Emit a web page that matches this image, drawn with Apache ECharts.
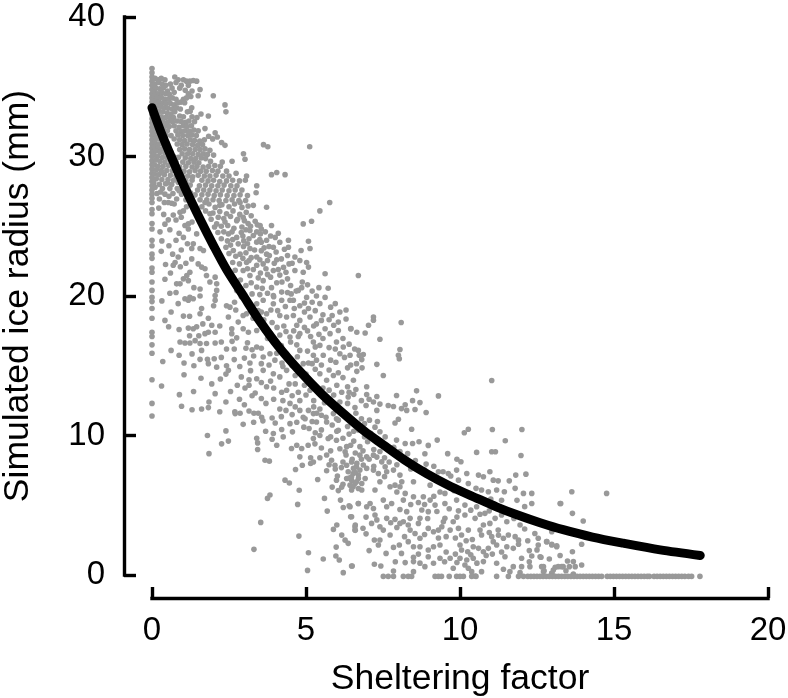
<!DOCTYPE html>
<html><head><meta charset="utf-8">
<style>html,body{margin:0;padding:0;background:#fff}#c{width:788px;height:698px}</style>
<script src="https://cdn.jsdelivr.net/npm/echarts@6/dist/echarts.min.js"></script>
</head><body><div id="c"></div>
<script>
const xTicks=[0,5,10,15,20];
const yTicks=[0,10,20,30,40];
const curveX=[0,0.3,0.7,1.1,1.56,2,2.42,3,3.5,4.1,4.8,5.5,6.2,6.9,7.5,8.2,8.93,9.7,10.55,11.2,11.85,12.6,13.35,14.3,15.3,16.5,17.8];
const curveY=[33.5,31.7,29.6,27.6,25.5,23.6,21.9,19.9,18.2,16.4,14.6,13,11.6,10.3,9.35,8.25,7.25,6.35,5.5,4.87,4.32,3.75,3.25,2.72,2.28,1.8,1.4];
// flat x,y pairs
const columnZero=[0,36.3,0,36,0,35.7,0,35.4,0,35.1,0,34.8,0,34.5,0,34.2,0,33.9,0,33.6,0,33.3,0,33,0,32.7,0,32.4,0,32.1,0,31.8,0,31.5,0,31.2,0,30.9,0,30.6,0,30.3,0,30,0,29.7,0,29.4,0,29.1,0,28.8,0,28.5,0,28.2,0,27.9,0,27.6,0,27.3,0,27,0,26.7,0,26.2,0,25.9,0,25.2,0,24.8,0,24,0,23.6,0,23,0,22.7,0,22,0,21.7,0,21,0,20.4,0,19.9,0,19.6,0,19.1,0,18.4,0,17.4,0,17.1,0,16.5,0,15.9,0,14,0,12.3,0,11.4];
const topDense=[.1,35.6,.2,35.5,.3,35.6,.42,35.5,.74,35.7,.85,35.5,1.02,35.5,1.12,35.4,1.23,35.4,1.34,35.45,1.45,35.4,
.1,35.2,.22,35.3,.33,35.2,.45,35.1,.6,35.2,.78,35.3,.95,35.1,1.18,35.1,1.56,34.8,
.12,34.9,.25,34.85,.37,34.95,.5,34.7,.65,34.9,.9,34.9,1.08,34.75,1.3,34.7,
.1,34.6,.2,34.5,.32,34.6,.44,34.5,.56,34.45,.72,34.6,1.18,34.5,1.26,34.3,1.5,34.36,
.08,34.3,.18,34.2,.3,34.25,.42,34.1,.54,34.1,.66,34.2,.78,34.1,1.02,34.1,1.12,34.2,1.99,34.36,
.1,33.95,.22,33.9,.34,33.85,.46,33.8,.6,33.8,.72,33.7,.84,33.85,.94,33.9,1.06,33.85,
.06,33.65,.16,33.6,.28,33.6,.4,33.5,.52,33.45,.66,33.4,.8,33.5,1.29,33.5,.92,33.4,2.37,33.7,2.4,33.2,
.1,33.3,.24,33.25,.36,33.2,.5,33.1,.62,33.05,.74,33.2,1.15,33.2,1.24,33.25,1.59,33.05,
.08,33,.18,32.9,.3,32.85,.44,32.8,.58,32.75,.7,32.8,.9,32.9,1.02,32.85,1.3,32.85,1.83,32.9,1.46,32.8,
.1,32.6,.22,32.55,.34,32.5,.5,32.45,.66,32.5,.82,32.55,.95,32.5,1.1,32.45,1.2,32.55,1.38,32.5,
.06,32.3,.16,32.25,.28,32.2,.42,32.2,.56,32.15,.72,32.2,.88,32.1,1.02,32.2,1.14,32.15,1.28,32.2,1.72,32,
.12,31.95,.24,31.9,.38,31.9,.5,31.85,.78,31.85,.94,31.8,1.08,31.85,1.22,31.8,1.36,31.9,1.5,31.85,2.05,31.7,
.08,31.6,.2,31.6,.32,31.55,.46,31.5,.62,31.5,.84,31.55,1,31.5,1.16,31.5,1.3,31.55,1.44,31.5,2.12,31.4,1.97,31.26,1.84,31.45,
.14,31.3,.26,31.25,.4,31.2,.72,31.25,.9,31.2,1.06,31.15,1.24,31.2,1.38,31.15,1.55,31.1,1.7,31.2,2.26,31];
const upperBand=[.1,31,.22,30.9,.36,30.9,.5,30.95,.82,30.9,.98,30.85,1.14,30.9,1.32,30.85,1.48,30.8,1.64,30.85,2.37,30.8,
.08,30.7,.2,30.6,.34,30.55,.48,30.6,.9,30.5,1.06,30.55,1.22,30.5,1.4,30.5,1.56,30.5,1.72,30.55,1.88,30.45,3.62,30.85,3.76,30.7,5.12,30.7,
.12,30.4,.26,30.3,.42,30.25,.62,30.3,.98,30.2,1.16,30.2,1.32,30.2,1.5,30.15,1.66,30.2,1.8,30.15,2,30.1,2.97,30.2,
.06,30.1,.18,30,.34,29.95,.5,29.9,.7,30,.86,29.95,1.08,29.9,1.26,29.85,1.42,29.85,1.6,29.9,1.74,29.85,3.02,29.8,
.12,29.75,.26,29.65,.42,29.6,.6,29.7,.78,29.6,1,29.6,1.18,29.55,1.36,29.6,1.52,29.55,1.9,29.65,2.28,29.6,2.6,29.66,
.08,29.4,.2,29.3,.36,29.3,.54,29.35,.72,29.3,.9,29.25,1.1,29.3,1.3,29.25,1.46,29.3,1.66,29.25,1.84,29.3,2.04,29.35,2.22,29.3,
.14,29.05,.3,29,.48,29,.66,29,.84,28.95,1.04,28.95,1.22,28.9,1.4,29,1.58,28.95,1.76,28.95,1.96,29,2.14,28.95,2.42,28.95,3.88,28.7,4.05,28.85,4.32,28.7,
.08,28.75,.22,28.7,.4,28.7,.6,28.65,.78,28.6,.98,28.6,1.16,28.6,1.5,28.65,1.7,28.6,1.88,28.6,2.08,28.65,2.3,28.6,2.5,28.6,2.73,28.8,3.07,28.6,
.14,28.4,.32,28.35,.52,28.35,.7,28.3,.9,28.3,1.1,28.25,1.3,28.3,1.62,28.3,1.82,28.25,2,28.3,2.2,28.2,2.42,28.25,2.62,28.3,2.84,28.25,3.03,28.3,
.06,28.1,.24,28,.44,28.05,.64,28,1.02,27.9,1.24,27.95,1.54,27.9,1.74,27.95,1.94,27.9,2.14,27.9,2.34,27.95,2.56,27.9,2.76,27.9,3.4,27.9,
.1,27.8,.34,27.7,.58,27.7,.82,27.7,1.18,27.6,1.48,27.6,1.68,27.6,1.88,27.6,2.08,27.55,2.28,27.6,2.5,27.55,2.7,27.6,2.92,27.6,3.38,27.4,
.16,27.35,.42,27.3,.68,27.35,.96,27.3,1.4,27.25,1.62,27.25,1.82,27.3,2.02,27.2,2.22,27.25,2.44,27.2,2.66,27.2,2.86,27.25,3.1,27.2,
.24,26.95,.8,26.95,1.1,26.9,1.56,26.9,1.78,26.9,1.98,26.9,2.18,26.85,2.4,26.85,2.6,26.9,2.82,26.85,3.04,26.85];
const diagFill=[1.62,26.4,1.85,26.6,2.05,26.35,2.27,26.55,2.5,26.4,2.68,26.6,2.92,26.35,3.12,26.45,1.74,26.1,1.98,25.95,2.2,26.05,2.42,25.9,2.63,26.1,2.85,25.85,3.06,26,3.22,25.75,1.92,25.5,2.15,25.65,2.33,25.55,2.55,25.7,2.78,25.5,3,25.4,3.35,25.35,2.03,24.95,2.25,25,2.46,25.05,2.66,24.85,2.92,24.95,3.12,25.2,3.42,25.1,2.14,24.55,2.33,24.6,2.6,24.6,2.9,24.55,3.05,24.75,3.52,24.45,3.68,24.6,2.25,24.1,2.45,23.95,2.62,24.05,2.98,23.95,3.15,24.1,3.55,23.85,3.85,24.3,4,24.2,2.4,23.5,2.55,23.65,2.97,23.55,3.1,23.75,3.55,23.25,3.8,23.55,4.15,23.85,4.3,23.35,2.5,23.05,2.72,22.85,2.95,22.7,3.15,22.55,3.5,22.6,3.75,22.55,4.05,22.6,4.4,22.9,4.55,22.35,4.8,22.55,2.62,22.4,2.84,22.3,2.7,21.85,3.1,21.95,3.45,21.3,3.75,21.55,4.1,21.9,4.35,21.7,4.45,22.3,
.32,28.85,.72,29.15,.95,28.75,1.32,28.55,.5,28.1,.85,28.15,1.15,27.95,.28,27.45,.55,27.15,.88,27.55,1.25,27.4,.4,26.7,.72,26.6,1.12,26.4,1.32,26.7,1.42,26.15,.22,26.3,.38,25.85,.78,25.45,.42,25.15,.95,25.65,1.3,25.3,.26,24.6,.58,24.75,.88,24.5,.32,23.95,.55,23.6,1.15,23.75,.3,23.2,.95,23.3,1.1,22.35,.92,22.1,.42,21.2,.6,21.65,.58,20.2,.78,20.25,1.36,20.6,.85,19.45,.32,19.65,.62,18.85,1.22,18.55,1.18,17.7,.88,17.6,.42,18.25,1.65,18,1.22,17.15,1.52,17.15,.62,16.1,.88,15.75,1.3,15.85,1.36,15,2.22,14.05,2.25,15.6,2.25,16.7,2.6,16.75,2.75,17,3.1,16.65,3.25,16.15,3,15.55,2.85,14.95,3.2,14.65,2.9,14.2,3.15,13.6,3.25,12.85,3.55,12.65,2.55,13.15,2.05,13,1.35,13.15,1.3,11.85,2.2,11.7,3,12.2];
const belowCurveLeft=[.53,26.7,.64,26.65,.91,26,1.02,26.1,.53,25.46,.69,25.8,1.07,25.05,1.18,25.17,1.18,24.8,.78,24,1.02,24.2,1.45,24.45,1.34,23.74,1.56,23.4,1.29,23.4,1.67,23.26,.67,23,.85,22.8,.75,22.4,.44,22.26,.69,22.2,1.29,22.66,1.5,22.3,1.61,22.07,1.23,21.7,1.13,21.47,1.02,21.23,.91,20.87,.8,20.87,1.18,21.1,1.72,21.95,1.77,21.47,2.05,21.35,1.88,21,2.1,20.87,2.1,20.4,2.05,20.04,2.05,19.7,2,19.3,1.56,20.5,1.23,19.9,1.07,19.8,1.34,19.8,1.56,20,1.18,19.7,1.61,19.1,1.56,18.73,1.02,18.56,1.83,18.4,1.45,17.8,1.34,17.65,1.94,17.9,2.2,17.85,1.72,17.3,1.83,17.4,2.05,17.4,.91,16.7,1.07,16.63,1.23,16.63,1.4,16.8,1.56,16.6,1.77,16.6,2.05,16.63,1.61,16.1,2.42,16.2,2.67,16.2,1.56,15.46,1.8,15.46,2.02,15.5,2.67,15.44,1.04,15.2,.35,15.3,1.83,15.15,2.1,14.9,2.42,15,2.48,14.67,2.4,14.4,1.04,14.36,1.59,14.1,.31,13.55,1.94,13.7,2.77,13.6,3.02,13.4,.89,12.93,.96,12.1,1.85,12.4,2.4,12.4,2.84,12.6,1.61,11.9,1.83,12,2.69,11.7,2.86,11.6,3.15,11.76,3.31,11.6,3.45,11.6,3.56,11.3,.54,17.8];
const lowerLeft=[1.8,10,2.4,10.33,2.26,9.4,2.48,9.6,1.85,8.7,2.96,10.8,2.7,11.57,3.4,9.8,3.43,9.47,3.43,9,3.69,10.3,3.94,10.14,3.9,9.73,4.21,10.43,4.26,9.9,4.56,10.26,4.05,9.3,4.48,10.85,3.67,8.23,3.81,8.16,4.32,6.8,4.46,6.6,4.78,6.08,3.83,5.73,3.75,5.49,4.73,5.06,3.53,3.77,4.77,2.79,3.31,1.84,5.08,1.6,5.05,.33,5.56,1.15,5.97,1.36,6.08,1.07,6.5,.64,6.21,.17,5.98,2,6.27,2.5,6.37,2.27,6.16,2.86,6,3.58,5.89,3.27,6.6,3.58,6.6,3.2,6.45,4.17,5.69,4.58,6.21,4.84,6.4,4.96,6.12,5.37,5.6,5.49,6.7,5.13,5.38,6.85,5.99,6.8,6.02,7.1,6.16,6.3,4.66,7.56,4.88,7.87,5.15,7.99,5.24,8.1,5.15,8.4,4.8,8.47,5.45,8.4,5.67,8.6,5.83,8.23,5.94,7.87,5.67,7.47,4.53,9.07,4.7,9.3,4.86,9.07,5.07,9.3,5.29,9.4,5.45,10,5.72,9.78,5.99,9.66,6.32,9.2,6.27,8.83,4.97,11.2,5.24,11.57,5.34,10.97,5.67,10.97,5.99,11.2,6.05,10.38,4.93,10.6,5.24,9.78,6.32,7.87,6.48,8.1,6.64,7.75,6.37,7.4,6.53,7.28,6.7,7.16,6.32,6.92,6.48,6.8,6.64,6.68,6.53,6.32,6.7,6.2,6.43,6.44];
const aboveCurveMid=[1.72,26.7,2.2,26.5,2.86,26.7,3.29,26.5,3.72,26.36,5.77,26.7,5.45,26.1,5.18,25.36,4.91,25.17,1.88,25.9,2.1,25.17,2.37,25.3,2.75,25.4,2.96,25.65,3.51,25.05,3.88,25.05,4.1,24.5,3.18,24.7,3.29,24.34,2.48,24.45,2.75,24.2,2.8,23.74,2.64,23.26,2.86,23,3.18,23.4,3.4,23.86,3.72,24,3.94,23.5,4.43,24,5.08,23.93,5.13,23.4,4.84,23.26,4.43,23.5,4.64,22.8,4.2,22.66,3.72,23,3.4,22.8,3.07,22.4,3.4,22.2,3.61,22.3,3.94,21.83,2.96,21.83,3.18,21.47,3.61,21.1,3.4,20.64,3.88,20.6,4.21,20.28,3.94,20.04,4.64,21.83,5.08,22.07,4.91,21.7,5.02,22.4,5.62,21.6,6.7,21.47,4.4,21.23,4.88,21,5.72,20.56,4.75,20.4,5.02,19.9,4.59,19.7,5.34,20,5.62,19.9,3.4,19.44,3.61,19.7,3.94,19.44,4.21,19.7,4.48,19.7,4.8,19.3,5.08,19.1,2.75,20.4,2.42,19.3,2.53,19.2,3.07,18.73,2.96,18.6,3.72,18.73,4.15,18.6,4.37,18.5,4.59,18.6,4.8,18.25,4.7,17.9,5.13,18.5,5.34,18,5.62,17.65,6.1,18.85,6.05,18.13,6.05,17.53,6.45,17.65,2.48,18.5,2.8,18.13,2.59,17.65,2.59,17.3,2.96,17.65,3.13,17.4,3.4,17.53,4.15,17.2,4.48,17.06,4.8,17.3,5.24,16.7,5.78,17.3,5.99,16.7,6.21,16.34,5.45,16.46,3.4,16.34,3.61,15.63,3.83,15.86,3.99,15.4,4.37,15.86,4.8,16.1,5.24,15.75,5.56,15.75,6.1,15.86,6.43,15.75,6.7,16.1,3.18,15.2,3.61,14.67,3.94,14.43,4.37,14.67,4.91,15.15,5.34,15.4,5.45,14.43,5.89,14.3,6.64,15.15,3.4,14.07,3.72,13.5,4.21,13.1,4.37,13.24,4.75,13.1,5.13,13.24,5.67,13.96,6.16,13.1,6.37,12.76,4.48,12.3,4.8,12.5,5.08,11.8,5.45,11.9,4.15,11.9,4.91,11.3,5.89,11.57];
const midFill=[3.05,23.1,3.22,22.75,3.33,23.3,3.5,24.05,3.64,23.45,3.81,22.9,3.97,22.35,4.03,23.15,4.15,21.5,4.27,22.05,3.29,21.9,3.52,21.65,3.7,21.95,3.85,21.35,2.87,21.15,3.05,20.75,3.22,20.95,3.58,20.55,3.75,20.2,4.05,20.95,4.22,21,4.5,20.75,4.68,20.35,4.86,20.6,5.05,20.8,5.2,20.35,5.45,19.45,5.3,18.95,4.95,18.85,4.62,19.1,4.33,19.25,4.08,18.95,3.86,19,3.55,18.85,3.28,18.4,3.63,18.3,3.9,18.1,4.06,17.75,4.28,17.85,4.6,17.5,4.95,17.75,5.15,17.1,5.42,17.25,5.75,18.3,5.9,17.9,5.55,16.95,5.3,16.35,5.05,16.05,4.7,16.5,4.5,16.7,4.2,16.45,3.95,16.7,3.75,16.95,3.55,16.25,4.05,15.9,4.22,15.2,4.5,15.45,4.72,15.65,5.08,15.2,5.5,15.05,5.8,15.4,5.97,15.25,6.25,15.6,6.35,14.85,6.05,14.5,5.75,14.7,5.3,14.75,5,14.4,4.65,14.3,4.15,14.2,3.85,13.9,3.55,13.8,4.45,13.7,4.95,13.6,5.25,13.55,5.55,13.4,5.9,12.9,6.1,12.4,5.7,12.6,5.25,12.5,5,12.9,4.55,12.85,4.25,12.5,3.95,12.6,3.7,12.3,6.3,11.35,6.05,11.1,5.65,11.3,5.35,11.6,3.9,11.25,4.2,11.35,4.55,11.5,4.7,10.95,3.3,10.95,3.6,11.05,3.2,25,3.4,24.6,3.55,24.8,2.95,24.3,6.5,11,6.7,10.4,6.9,9.9,6.55,9.6,6.75,9.2,7,9.55,7.2,9,7.4,8.85,7.55,8.4,6.6,8.75,6.85,8.9,7.05,8.3,7.3,8.45,6.5,8.3,6.8,8.3,7.7,8.1,7.9,8.75,8.15,8.3,8.35,8.05,8.6,7.7,8.9,7.95,9.15,7.8,9.45,7.4,9.7,7.1,9.95,6.8,5.1,10.5,5.3,10.2,5.5,10.4,5.8,9.9,6,10.3,6.2,9.8,6.4,10.1,5.5,9.1,5.8,8.9,6.1,9.05,6.3,8.6,6.45,9.3,5.75,7.9,5.95,7.6,6.15,7.7,6.2,8.1,5.85,6.3,6.05,6.05,6.2,6.5,
3.65,17.55,3.85,17.3,4.35,17.45,4.75,17.1,5.05,17.5,5.25,17.85,5.5,18.25,4.95,19.5,5.2,19.55,5.42,20.6,5.8,19.2,5.95,19.45,6.3,19,3.5,20.1,3.25,20.15,3.08,19.75,2.9,19.95,2.68,19.55,2.72,19,3.25,19.05,3.45,18.95,3.95,19.95,4.4,20.25,4.52,20.15,5.55,18.65,5.85,18.6,6.3,18.35,6.65,17.4,6.2,16.95,6.4,16.55,5.75,16.3,5.95,16.2,6.45,15.05,6.65,14.6,5.2,15.15,4.55,15,4.8,14.7,4.25,14.95,3.8,15.05,3.55,15.15,3.3,15.7,3.05,16.25,3.15,14,3.35,13.05,3.95,13.4,4.65,13.7,5.45,13.05,5.75,13.25,6,13.6,6.35,13.5,6.55,12.95,6.8,12.5,6.95,12.15,6.35,12.3,5.6,12.35,5.25,12.05,4.65,12.05,4.35,11.8,4,10.9,4.8,11.8,5.2,11,5.5,11.45,5.85,10.75,6.35,10.65,6.55,10.3,6.8,11.2,6.9,10.85,7.1,10.15,7.3,9.75,7.6,9.3,7.85,9.15,8.05,8.85,8.3,8.7,8.55,8.2,8.85,7.55,8.4,7.6,7.95,7.9,7.55,7.05,7.2,7.8,6.6,7.35,6.4,6.95];
const upperRight=[7.19,18.5,7.19,18.26,7.03,17.9,8.09,18.1,6.92,17.35,6.46,17.66,7.4,16.9,8.05,16.16,8,15.75,8.03,15.5,6.58,16.2,6.86,15.8,6.73,15.75,6.81,15.44,7.3,15.1,6.82,14.85,7.51,14.3,6.54,13.96,11.03,13.94,6.97,13.5,6.62,13.3,8.59,13.2,9.3,12.84,7.94,12.87,6.97,12.94,7.3,12.8,8.46,12.5,8.7,12.36,8.22,12.2,8.1,11.93,8.27,11.8,8.54,11.86,8.9,11.65,7.4,12.25,7.67,12.15,7.84,12.08,7.19,12.4,7.3,11.8,6.59,12,6.62,11.6,7.06,11.1,7.32,11,7.89,10.9,8,11.17,7.24,10.6,8.43,10.45,10.27,10.45,10.14,10.2,11.05,10.43,12.01,10.43,11.47,9.62,9.26,9.67,8.67,9.55,8.97,9.29,8.46,9.43,7.94,9.67,8.22,9.43,7.57,9.9,7.4,10.27,10.54,8.79,11.03,8.83,11.15,8.83,11.98,8.57,9.6,8.7,8.86,8.69,10.03,8.12,9.9,8.3,7.05,12.6,6.4,13.1,6.2,14.15];
const lowerCenter=[6.75,8.59,6.97,8.47,7.19,8.59,6.65,8,6.86,7.88,7.46,8.11,7.57,7.76,7.84,7.52,6.54,7.64,6.75,7.52,6.97,7.64,7.19,7.52,7.35,7.28,7.62,7.4,8.05,7.16,6.48,7.04,6.7,6.92,6.92,6.92,6.59,6.56,6.81,6.56,7.4,6.68,7.73,6.33,7.89,6.44,8.11,6.68,8.49,6.68,8.05,6.33,7.24,6.09,6.48,6.09,6.81,6.09,8.22,5.85,8.49,5.61,8.81,5.61,9.03,5.37,7.78,5.13,8.16,5.37,7.51,5.37,7.08,5.13,6.7,5.13,6.43,4.89,7.19,4.77,6.97,4.89,7.62,4.89,8.05,4.7,8.27,4.54,8.76,4.66,8.97,4.54,9.19,5.01,9.51,5.13,9.89,5.37,10.16,5.01,7.24,4.3,6.48,4.18,7.62,4.06,7.89,3.99,8.16,3.82,8.38,4.06,8.7,4.06,7.13,3.7,8.05,3.7,8.32,3.58,8.65,3.7,6.59,3.46,6.59,3.22,7.4,3.46,7.51,3.22,7.73,2.87,8.38,3.22,8.54,2.98,8.7,2.63,8.97,3.34,9.14,3.1,9.3,3.22,9.41,3.46,9.68,3.22,9.95,3.34,10.27,3.22,9.51,4.06,9.46,3.82,9.78,3.82,10.16,4.3,10.49,4.06,10.05,2.87,10.76,3.58,10.97,3.7,10.65,3.22,11.14,4.06,11.52,3.82,11.95,3.58,11.24,3.22,10.7,2.87,11.03,2.75,11.08,2.39,11.41,2.63,11.57,2.87,11.79,2.75,12.43,2.98,12.54,2.63,12.54,2.15,12.81,2.39,12.98,2.15,13.14,2.03,13.25,5.13,12.33,5.13,12.06,5.85,11.79,6.21,12.33,5.85,12.14,7.23,11.81,7.16,11.44,5.97,11.6,6.75,11.19,6.09,10.92,5.97,10.7,6.09,10.52,6.21,10.27,6.56,10.6,7.16,10.76,7.04,10.97,7.4,11.08,6.8,11.24,6.75,10.22,7.28,9.89,7.52,9.62,7.28,9.3,7.4,9.03,6.44,9.51,5.85,10.54,4.89,10.81,4.42,11.19,4.89,11.62,4.54,7.22,2.51,7.4,2.51,7.35,2.15,7.84,1.98,8.03,2.15,8.32,2.39,8.49,2.03,8.7,2.03,8.97,1.79,9.14,2.03,9.35,2.15,10,2.15,10.05,1.79,10.25,1.67,10.43,2.03,10.6,1.91,10.76,1.67,10.92,1.91,11.19,2.15,11.52,2.03,11.73,1.91,8.97,1.31,8.49,1.27,9.35,1.2,9.68,1.2,8.22,.89,8.49,.96,8.86,.6,9.14,.84,10,1.2,10.22,1.08,10.43,1.2,10.76,.96,11.19,.84,11.46,1.31,11.73,.6,12,1.2,12.33,1.36,12.6,1.31,12,.6,12.27,.6,12.65,.6,13.03,.36,13.19,.6,13.35,.6,6.48,.65,7.22,.77,7.43,.65,7.84,.29,8.49,.24,9.78,.48,10.16,.72,10.27,.48,10.38,.24,10.49,-.07,10.7,.24,11.41,.41,11.62,.24,11.95,.17,12.71,.24,12.98,.12,
7.95,5.95,8.65,5.2,8.85,5.05,9.25,4.55,9.65,4.75,9.95,4.6,10.35,4.65,10.65,4.35,10.95,4.6,11.35,4.3,11.75,4.05,12.1,3.3,12.2,2.45,11.9,2.2,11.25,2.85,10.95,3.05,10.4,2.55,10.2,2.45,9.85,2.65,9.55,2.75,9.3,2.65,8.85,2.9,8.2,2.75,7.95,3.4,7.75,3.75,7.3,3.95,6.95,4.15,6.85,3.35,6.95,2.95,7.05,1.75,7.6,1.55,7.9,.95,8.1,1.55,8.65,1.5,9.55,1.65,9.85,1.5,10.35,1.45,10.85,1.4,11.05,1.5,11.35,1.65,12.25,1.75,12.5,1.8,12.9,1.15,13.25,1.4,9.15,5.65,9.35,5.95,9.8,6.05,10.05,5.9,10.4,5.7,10.7,5.35,11,5.45,11.35,5.35,11.85,5.35,12.1,4.9,8.4,5.05,8.95,4.05,9.9,4.15,11.9,2.5,12.25,.95,10.55,.85,9.5,.95,8.7,.85,9.9,.9];
const lowerRight=[13.63,5.97,14.76,5.85,13.27,5.13,13.65,4.42,14,3.87,12.98,3.1,12.82,2.39,12.98,2.2,13.14,2.1,13.95,2.2,13.65,1.67,13.49,1,13.68,.96,13.95,.72,13.74,.6,13.55,.6,13.3,.6,13.09,.55,13.44,.31,12.71,.6,12.73,.31,12.98,.12,13.68,.07,12.63,1.27];
const floorRow=[7.51,-.1,7.67,-.1,7.84,-.1,8.16,-.1,8.32,-.1,8.43,-.1,9.19,-.1,9.3,-.1,9.4,-.1,9.65,-.1,9.89,-.1,10,-.1,10.11,-.1,10.38,-.1,10.52,-.1,11.19,-.1,11.57,-.1,11.9,-.1,12.06,-.1,
12.2,-.1,12.3,-.1,12.4,-.1,12.5,-.1,12.6,-.1,12.7,-.1,12.8,-.1,12.9,-.1,13,-.1,13.1,-.1,13.2,-.1,13.3,-.1,13.4,-.1,13.5,-.1,13.6,-.1,13.7,-.1,13.8,-.1,13.9,-.1,14,-.1,14.1,-.1,14.2,-.1,14.3,-.1,14.4,-.1,14.5,-.1,14.6,-.1,
14.78,-.1,14.88,-.1,14.98,-.1,15.08,-.1,15.18,-.1,15.28,-.1,15.38,-.1,15.48,-.1,15.58,-.1,15.68,-.1,15.78,-.1,15.88,-.1,15.98,-.1,16.08,-.1,16.15,-.1,
16.3,-.1,16.4,-.1,16.5,-.1,16.6,-.1,16.7,-.1,16.8,-.1,16.9,-.1,17,-.1,17.1,-.1,17.2,-.1,17.3,-.1,17.42,-.1,17.52,-.1,17.79,-.1];

const pairs=a=>{const o=[];for(let i=0;i<a.length;i+=2)o.push([a[i],a[i+1]]);return o;};
const cloud=[columnZero,topDense,upperBand,diagFill,belowCurveLeft,lowerLeft,aboveCurveMid,midFill,upperRight,lowerCenter,lowerRight,floorRow].flatMap(pairs);
const font="'Liberation Sans', Arial, sans-serif";
const axisStyle={lineStyle:{color:'#000',width:3.4,cap:'square'}};
const chart=echarts.init(document.getElementById('c'),null,{renderer:'canvas'});
chart.setOption({
 animation:false,backgroundColor:'#fff',
 grid:{left:152,right:20,top:17,bottom:123,outerBoundsMode:'none'},
 xAxis:{type:'value',min:0,max:20,interval:5,offset:23,position:'bottom',
  name:'Sheltering factor',nameLocation:'middle',nameGap:63,
  nameTextStyle:{fontFamily:font,fontSize:35.5,color:'#000'},
  axisLine:{show:true,onZero:false,...axisStyle},
  axisTick:{show:true,inside:true,length:11,lineStyle:{color:'#000',width:3.4}},
  axisLabel:{fontFamily:font,fontSize:33,color:'#000',margin:16,customValues:xTicks},
  splitLine:{show:false}},
 yAxis:{type:'value',min:0,max:40,interval:10,offset:28,position:'left',
  name:'Simulated ice radius (mm)',nameLocation:'middle',nameGap:88,nameRotate:90,
  nameTextStyle:{fontFamily:font,fontSize:35.5,color:'#000'},
  axisLine:{show:true,onZero:false,...axisStyle},
  axisTick:{show:true,inside:true,length:12,lineStyle:{color:'#000',width:3.4}},
  axisLabel:{fontFamily:font,fontSize:33,color:'#000',margin:19,customValues:yTicks},
  splitLine:{show:false}},
 series:[
  {type:'scatter',data:cloud,symbol:'circle',symbolSize:5.6,clip:false,silent:true,itemStyle:{color:'#999999',opacity:1},large:false},
  {type:'line',data:curveX.map((x,i)=>[x,curveY[i]]),smooth:0.3,showSymbol:false,silent:true,clip:false,
   lineStyle:{color:'#000',width:9,cap:'round'}}
 ]
});
</script></body></html>
